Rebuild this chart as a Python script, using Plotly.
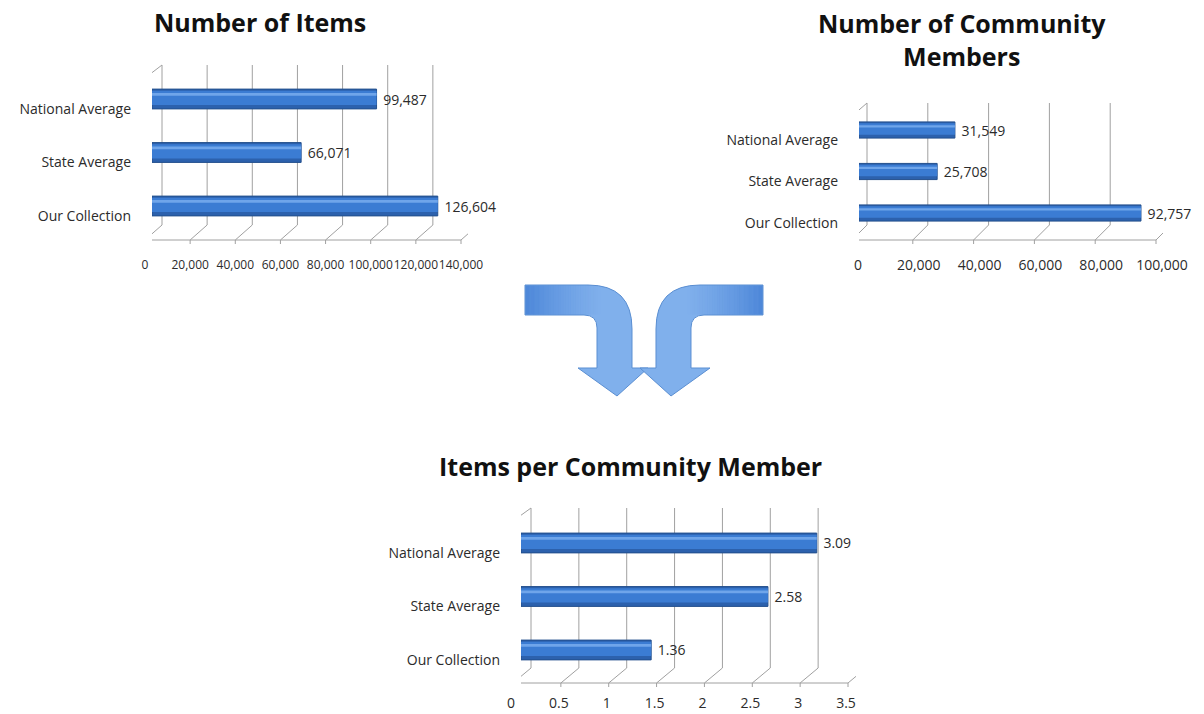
import plotly.graph_objects as go

# ---------------- data ----------------
categories = ["Our Collection", "State Average", "National Average"]
items_values = [126604, 66071, 99487]
members_values = [92757, 25708, 31549]
per_member_values = [1.36, 2.58, 3.09]

items_ticks = [0, 20000, 40000, 60000, 80000, 100000, 120000, 140000]
members_ticks = [0, 20000, 40000, 60000, 80000, 100000]
per_member_ticks = [0, 0.5, 1, 1.5, 2, 2.5, 3, 3.5]

titles = ["Number of Items", "Number of Community<br>Members", "Items per Community Member"]

# ---------------- layout helpers ----------------
W, H = 1204, 714
FONT = "'Open Sans', Lato, sans-serif"
GRID = "#a0a0a0"
TXT = "#2b2b2b"


def fx(p):
    return p / W


def fy(p):
    return 1 - p / H


charts = [
    dict(ax="", vals=items_values, ticks=items_ticks, left=152, right=468, top=65, bottom=240,
         yr=(-0.6355, 2.6355), w=0.37, tfmt=",", txt="\u00a0%{x:,}", tshift=-7, tsize=12,
         standoff=16, dxb=10, dxf=-7, title=titles[0], tx=260, ty=22),
    dict(ax="2", vals=members_values, ticks=members_ticks, left=859, right=1163, top=103, bottom=240,
         yr=(-0.6506, 2.6506), w=0.39, tfmt=",", txt="\u00a0%{x:,}", tshift=-1, tsize=14,
         standoff=15, dxb=8, dxf=-7, title=titles[1], tx=962, ty=39),
    dict(ax="3", vals=per_member_values, ticks=per_member_ticks, left=521, right=856, top=508, bottom=683,
         yr=(-0.617, 2.654), w=0.37, tfmt="", txt="\u00a0%{x}", tshift=-10, tsize=14,
         standoff=10, dxb=10, dxf=-8, title=titles[2], tx=630, ty=466),
]

fig = go.Figure()
shapes = []
annotations = []
DEPTH = 15

for c in charts:
    xa = "x" + c["ax"]
    ya = "y" + c["ax"]
    w = c["w"]
    hpx = c["bottom"] - c["top"]
    wpx = c["right"] - c["left"]
    xmax = c["ticks"][-1]

    # base (dark) cylinder body
    fig.add_trace(go.Bar(
        x=c["vals"], y=categories, orientation="h", xaxis=xa, yaxis=ya,
        width=w, offset=-w / 2,
        marker=dict(color="#2c61ad", line=dict(color="#234f8c", width=1)),
        text=c["vals"], texttemplate=c["txt"], textposition="outside", constraintext="none",
        textfont=dict(family=FONT, size=14, color=TXT),
        cliponaxis=False, showlegend=False, hoverinfo="x+y",
    ))
    # mid tone
    fig.add_trace(go.Bar(
        x=c["vals"], y=categories, orientation="h", xaxis=xa, yaxis=ya,
        width=w * 0.72, offset=-w * 0.3,
        marker=dict(color="#3b7cd3", line=dict(width=0)),
        showlegend=False, hoverinfo="skip",
    ))
    # highlight
    fig.add_trace(go.Bar(
        x=c["vals"], y=categories, orientation="h", xaxis=xa, yaxis=ya,
        width=w * 0.14, offset=w * 0.16,
        marker=dict(color="#6fa5ea", line=dict(width=0)),
        showlegend=False, hoverinfo="skip",
    ))

    xkey = "xaxis" + c["ax"]
    ykey = "yaxis" + c["ax"]
    fig.update_layout(**{
        xkey: dict(domain=[fx(c["left"]), fx(c["right"])], range=[0, xmax], anchor=ya,
                   tickvals=c["ticks"], tickformat=c["tfmt"], tickangle=0, automargin=False,
                   showgrid=False, zeroline=False, showline=False, ticks="",
                   ticklabelshift=c["tshift"], ticklabelstandoff=c["standoff"],
                   tickfont=dict(family=FONT, size=c["tsize"], color=TXT), fixedrange=True),
        ykey: dict(domain=[fy(c["bottom"]), fy(c["top"])], range=list(c["yr"]), anchor=xa,
                   type="category", categoryorder="array", categoryarray=categories,
                   automargin=False,
                   showgrid=False, zeroline=False, showline=False, ticks="",
                   ticklabelshift=10, ticklabelstandoff=20,
                   tickfont=dict(family=FONT, size=14, color=TXT), fixedrange=True),
    })

    yd = ya + " domain"
    back = DEPTH / hpx
    line = dict(color=GRID, width=1)
    # back-plane gridlines + floor diagonals
    for v in c["ticks"]:
        shapes.append(dict(type="line", xref=xa, yref=yd, xsizemode="pixel", xanchor=v,
                           x0=c["dxb"], x1=c["dxb"], y0=back, y1=1, line=line, layer="below"))
        shapes.append(dict(type="line", xref=xa, yref=yd, xsizemode="pixel", xanchor=v,
                           x0=c["dxf"], x1=c["dxb"], y0=0, y1=back, line=line, layer="below"))
        shapes.append(dict(type="line", xref=xa, yref=yd, xsizemode="pixel", xanchor=v,
                           x0=c["dxf"], x1=c["dxf"], ysizemode="pixel", yanchor=0, y0=0, y1=-4,
                           line=line, layer="below"))
    # front wall
    ftop = (hpx - 13) / hpx
    shapes.append(dict(type="line", xref=xa, yref=yd, xsizemode="pixel", xanchor=0,
                       x0=c["dxf"], x1=c["dxf"], y0=0, y1=ftop, line=line, layer="below"))
    shapes.append(dict(type="line", xref=xa, yref=yd, xsizemode="pixel", xanchor=0,
                       x0=c["dxf"], x1=c["dxb"], y0=ftop, y1=1, line=line, layer="below"))
    # front floor edge
    shapes.append(dict(type="line", xref=xa, yref=yd, xsizemode="pixel", xanchor=0,
                       x0=c["dxf"] - 4, x1=c["dxf"] + wpx, y0=0, y1=0, line=line, layer="below"))
    # category ticks on the front wall
    shapes.append(dict(type="line", xref=xa, yref=yd, xsizemode="pixel", xanchor=0,
                       x0=c["dxf"] - 4, x1=c["dxf"], y0=ftop, y1=ftop, line=line, layer="below"))
    for b in (0.5, 1.5):
        shapes.append(dict(type="line", xref=xa, yref=ya, xsizemode="pixel", xanchor=0,
                           ysizemode="pixel", yanchor=b,
                           x0=c["dxf"] - 4, x1=c["dxf"], y0=-6, y1=-6, line=line, layer="below"))

    annotations.append(dict(text="<b>" + c["title"] + "</b>", x=fx(c["tx"]), y=fy(c["ty"]),
                            xref="paper", yref="paper", xanchor="center", yanchor="middle",
                            showarrow=False, align="center",
                            font=dict(family=FONT, size=25, color="#111111")))


# ---------------- merging arrows (decoration) ----------------
def arrow(m):
    P = lambda x, y: f"{fx(m(x)):.5f},{fy(y):.5f}"
    return ("M " + P(525, 285) + " L " + P(588, 285) + " Q " + P(632, 285) + " " + P(632, 329) +
            " L " + P(632, 368) + " L " + P(648, 368) + " L " + P(617, 396) + " L " + P(578, 368) +
            " L " + P(597, 368) + " L " + P(597, 328) + " Q " + P(597, 315) + " " + P(584, 315) +
            " L " + P(525, 315) + " Z")


def band(x0, x1, color):
    P = lambda x, y: f"{fx(x):.5f},{fy(y):.5f}"
    return dict(type="path", xref="paper", yref="paper",
                path="M " + P(x0, 285.5) + " L " + P(x1, 285.5) + " L " + P(x1, 314.5) + " L " + P(x0, 314.5) + " Z",
                fillcolor=color, line=dict(width=0), layer="above")


STEPS = 30
for mirror in (lambda x: x, lambda x: 1288 - x):
    shapes.append(dict(type="path", xref="paper", yref="paper", path=arrow(mirror),
                       fillcolor="#80b0ec", line=dict(color="#5b8fd2", width=1), layer="above"))
    # smooth darkening toward the outer end of the horizontal band
    for i in range(STEPS):
        a0 = 525.5 + i * 2.5
        a1 = a0 + 2.6
        alpha = 0.6 * (1 - i / STEPS) ** 1.3
        x0, x1 = sorted((mirror(a0), mirror(a1)))
        shapes.append(band(x0, x1, f"rgba(45,110,205,{alpha:.3f})"))

fig.update_layout(
    width=W, height=H, margin=dict(l=0, r=0, t=0, b=0, autoexpand=False),
    paper_bgcolor="white", plot_bgcolor="rgba(0,0,0,0)",
    barmode="overlay", shapes=shapes, annotations=annotations,
    font=dict(family=FONT, color=TXT),
)

fig.write_html("out.html")
